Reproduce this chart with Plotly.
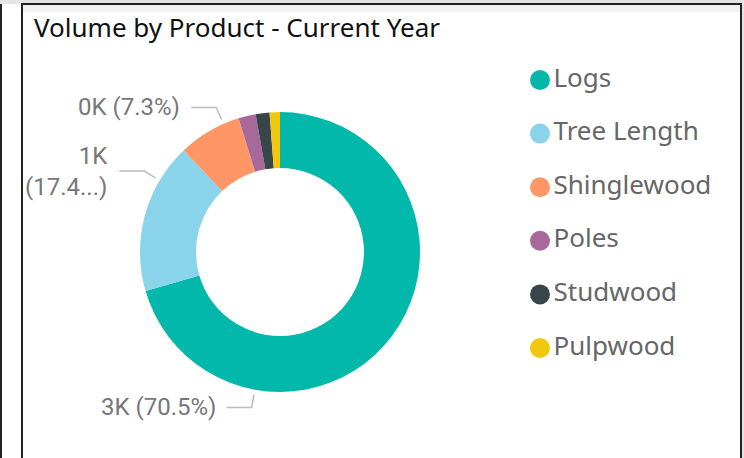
import math
import plotly.graph_objects as go

# ---------------- data ----------------
categories = ["Logs", "Tree Length", "Shinglewood", "Poles", "Studwood", "Pulpwood"]
volumes = [2961, 731, 307, 84, 67, 50]
colors = ["#01B8AA", "#8AD4EB", "#FE9666", "#A66999", "#374649", "#F2C80F"]
labelled = [True, True, True, False, False, False]
wrapped = [False, True, False, False, False, False]
title_text = "Volume by Product - Current Year"

# ---------------- layout geometry (pixels) ----------------
W, H = 744, 458
CX, CY, R = 280, 252, 140
HOLE = 0.6


def px(x):
    return x / W


def py(y):
    return 1 - y / H


total = sum(volumes)
pcts = [v / total * 100 for v in volumes]

fig = go.Figure()

fig.add_trace(go.Pie(
    labels=categories,
    values=volumes,
    hole=HOLE,
    sort=False,
    direction="clockwise",
    rotation=0,
    marker=dict(colors=colors, line=dict(width=0)),
    textinfo="none",
    hoverinfo="label+value+percent",
    domain=dict(x=[px(CX - R), px(CX + R)], y=[py(CY + R), py(CY - R)]),
    showlegend=False,
))

# legend built from a scatter on hidden axes (circle markers + text)
fig.add_trace(go.Scatter(
    x=[0] * len(categories),
    y=list(range(len(categories))),
    mode="markers+text",
    text=categories,
    textposition="middle right",
    textfont=dict(family="Noto Sans, Open Sans, sans-serif", size=26, color="#666666"),
    marker=dict(size=20, color=colors, line=dict(width=0)),
    hoverinfo="skip",
    showlegend=False,
    cliponaxis=False,
))

LEG_X, LEG_Y0, LEG_DY = 540, 80, 53.6

shapes = []
annotations = []

# data labels with leader lines
cum = 0.0
for i, v in enumerate(volumes):
    share = v / total
    if labelled[i]:
        frac = cum + 0.75 * share
        th = 2 * math.pi * frac
        r1, r2 = R + 5, R + 18
        p1 = (CX + r1 * math.sin(th), CY - r1 * math.cos(th))
        p2 = (CX + r2 * math.sin(th), CY - r2 * math.cos(th))
        p3 = (p2[0] - 25, p2[1])
        path = f"M {px(p1[0])},{py(p1[1])} L {px(p2[0])},{py(p2[1])} L {px(p3[0])},{py(p3[1])}"
        shapes.append(dict(type="path", xref="paper", yref="paper", path=path,
                           line=dict(color="#BBBBBB", width=1.5)))
        kval = f"{round(v / 1000)}K"
        pct = f"{pcts[i]:.1f}%"
        if wrapped[i]:
            txt = f"{kval}<br>({pct[:4]}...)"
        else:
            txt = f"{kval} ({pct})"
        annotations.append(dict(
            x=px(p3[0] - 9), y=py(p3[1]), xref="paper", yref="paper",
            xanchor="right", yanchor="middle", align="right", showarrow=False,
            text=txt, font=dict(family="Roboto, sans-serif", size=24, color="#777777"),
        ))
    cum += share

# title
annotations.append(dict(
    x=px(32), y=py(27), xref="paper", yref="paper", xanchor="left", yanchor="middle",
    showarrow=False, text=title_text,
    font=dict(family="Noto Sans, Open Sans, sans-serif", size=26, color="#111111"),
))

# card frame / surroundings
shapes.extend([
    dict(type="rect", xref="paper", yref="paper", x0=0, x1=1, y0=py(4), y1=1,
         fillcolor="#E4E4E4", line=dict(width=0), layer="below"),
    dict(type="rect", xref="paper", yref="paper", x0=px(23), x1=px(740), y0=py(12), y1=py(5),
         fillcolor="#F3F3F3", line=dict(width=0), layer="below"),
    dict(type="rect", xref="paper", yref="paper", x0=px(741), x1=1, y0=0, y1=1,
         fillcolor="#E4E4E4", line=dict(width=0), layer="below"),
    dict(type="line", xref="paper", yref="paper", x0=px(1), x1=px(1), y0=0, y1=py(4),
         line=dict(color="#222222", width=2)),
    dict(type="rect", xref="paper", yref="paper", x0=px(22), x1=px(741), y0=py(462), y1=py(4),
         line=dict(color="#222222", width=2), fillcolor="rgba(0,0,0,0)"),
])

fig.update_layout(
    width=W, height=H,
    margin=dict(l=0, r=0, t=0, b=0),
    paper_bgcolor="white", plot_bgcolor="rgba(0,0,0,0)",
    xaxis=dict(visible=False, range=[-LEG_X, W - LEG_X], domain=[0, 1], fixedrange=True),
    yaxis=dict(visible=False, domain=[0, 1], fixedrange=True,
               range=[(H - LEG_Y0) / LEG_DY, -LEG_Y0 / LEG_DY]),
    shapes=shapes,
    annotations=annotations,
    showlegend=False,
)

fig.write_html("out.html", config={"displayModeBar": False},
               post_script="document.body.style.margin='0';")
